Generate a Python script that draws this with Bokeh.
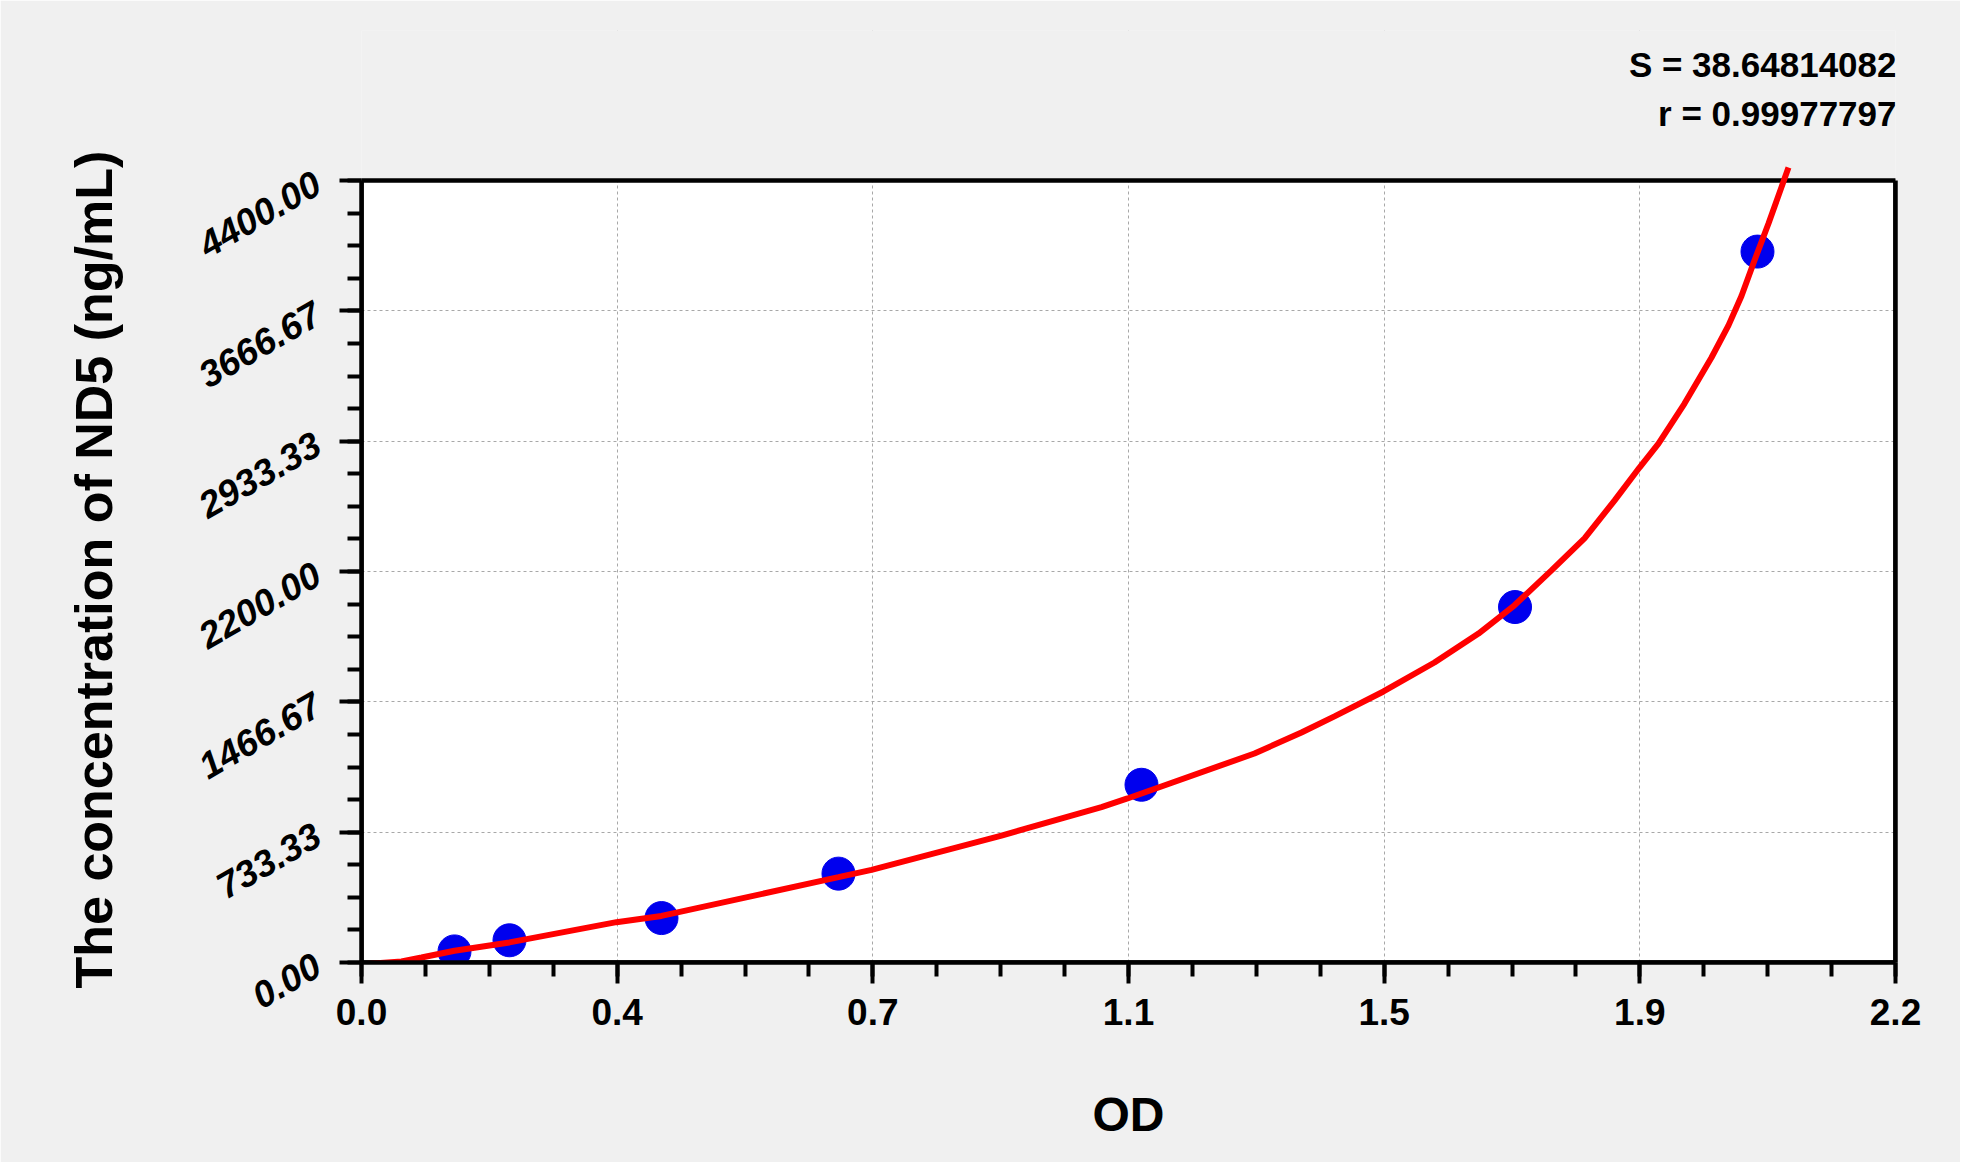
import math
from bokeh.plotting import figure
from bokeh.models import (Range1d, FixedTicker, CustomJSTickFormatter, BoxAnnotation,
                          Label, LinearAxis, Title)
from bokeh.embed import file_html
from bokeh.resources import INLINE

# ---- data ----
std_od = [0.1353, 0.2153, 0.4365, 0.6940, 1.1349, 1.6784, 2.0312]
std_conc = [62.5, 125, 250, 500, 1000, 2000, 4000]

fit_od = [0.0073, 0.0582, 0.0873, 0.1353, 0.2153, 0.3710, 0.4365, 0.6940, 0.7421,
          0.9312, 1.0767, 1.1145, 1.2993, 1.3677, 1.4157, 1.4870, 1.5612, 1.6253,
          1.6776, 1.7315, 1.7795, 1.8231, 1.8595, 1.8871, 1.9250, 1.9643, 1.9890,
          2.0079, 2.0268, 2.0472, 2.0763]
fit_conc = [-8, 6, 28, 66, 113, 227, 262, 480, 521, 714, 874, 923, 1176, 1294, 1385,
            1525, 1688, 1851, 2010, 2206, 2386, 2599, 2785, 2920, 3145, 3404, 3585,
            3750, 3950, 4158, 4473]

x_tick_labels = ["0.0", "0.4", "0.7", "1.1", "1.5", "1.9", "2.2"]
y_tick_labels = ["0.00", "733.33", "1466.67", "2200.00", "2933.33", "3666.67", "4400.00"]
stat_s = "S = 38.64814082"
stat_r = "r = 0.99977797"
x_title = "OD"
y_title = "The concentration of  ND5 (ng/mL)"

X_MAX = 2.232
Y_MAX = 4400.0
PX_PLOT = 782            # pixel height of the 0..4400 box
FRAME_H = 932            # frame extends above the box to hold the statistics text
Y_TOP = Y_MAX * FRAME_H / PX_PLOT

x_ticks = [X_MAX * i / 6 for i in range(7)]
x_minor = [X_MAX * i / 24 for i in range(25)]
y_ticks = [Y_MAX * i / 6 for i in range(7)]
y_minor = [Y_MAX * i / 24 for i in range(25)]

FONT = "Liberation Sans"
BG = "#f0f0f0"

p = figure(frame_width=1534, frame_height=FRAME_H,
           x_range=Range1d(0, X_MAX), y_range=Range1d(0, Y_TOP),
           output_backend="svg", toolbar_location=None,
           min_border_left=360, min_border_right=65,
           min_border_top=30, min_border_bottom=200,
           background_fill_color=BG, border_fill_color=BG,
           outline_line_color=None)

# white plotting area
p.add_layout(BoxAnnotation(left=0, right=X_MAX, bottom=0, top=Y_MAX,
                           fill_color="white", fill_alpha=1.0, line_alpha=0,
                           level="image"))

# grids
for g, t in ((p.xgrid, x_ticks), (p.ygrid, y_ticks)):
    g.ticker = FixedTicker(ticks=t)
    g.grid_line_color = "#a8a8a8"
    g.grid_line_dash = "3 3"
    g.grid_line_width = 1

# hide grid above the 4400 line
p.add_layout(BoxAnnotation(bottom=Y_MAX, fill_color=BG, fill_alpha=1.0,
                           line_alpha=0, level="underlay"))
# frame border
p.add_layout(BoxAnnotation(left=0, right=X_MAX, bottom=0, top=Y_MAX,
                           fill_color="white", fill_alpha=0.0,
                           line_color="black", line_alpha=1.0, line_width=4.5,
                           level="underlay"))

# axes
xa = p.xaxis[0]
xa.ticker = FixedTicker(ticks=x_ticks, minor_ticks=x_minor)
xa.formatter = CustomJSTickFormatter(args=dict(labels=x_tick_labels),
                                     code="return labels[index]")
ya = p.yaxis[0]
ya.ticker = FixedTicker(ticks=y_ticks, minor_ticks=y_minor)
ya.formatter = CustomJSTickFormatter(args=dict(labels=y_tick_labels),
                                     code="return labels[index]")
ya.bounds = (0, Y_MAX)

for ax in (xa, ya):
    ax.axis_line_width = 4.5
    ax.axis_line_color = "black"
    ax.major_tick_in = 0
    ax.minor_tick_in = 0
    ax.major_tick_line_width = 4
    ax.minor_tick_line_width = 4
    ax.major_tick_line_color = "black"
    ax.minor_tick_line_color = "black"
    ax.major_label_text_color = "black"
    ax.axis_label_text_color = "black"
    ax.axis_label_text_font = FONT
    ax.axis_label_text_font_style = "bold"
    ax.major_label_text_font = FONT

xa.major_tick_out = 21
xa.minor_tick_out = 14
xa.major_label_text_font_size = "37px"
xa.major_label_text_font_style = "bold"
xa.major_label_standoff = 15
xa.axis_label = x_title
xa.axis_label_text_font_size = "48px"
xa.axis_label_standoff = 60

ya.major_tick_out = 22
ya.minor_tick_out = 14
ya.major_label_text_font_size = "37px"
ya.major_label_text_font_style = "bold italic"
ya.major_label_orientation = math.radians(30)
ya.major_label_standoff = 22

# y-axis title, starting just below the bottom of the plot box
p.add_layout(Title(text=y_title, align="left", offset=-26,
                   standoff=125, text_font=FONT, text_font_size="52px",
                   text_font_style="bold", text_color="black"), "left")

# right border axis (no ticks)
ra = LinearAxis(ticker=FixedTicker(ticks=[]), bounds=(0, Y_MAX),
                axis_line_width=4.5, axis_line_color="black",
                major_tick_line_color=None, minor_tick_line_color=None,
                major_label_text_font_size="0px")
p.add_layout(ra, "right")

# data
p.scatter(std_od, std_conc, size=33, fill_color="#0000ee", line_color="#0000ee")
p.line(fit_od, fit_conc, line_color="#ff0000", line_width=6)

# statistics text (top right, screen offsets from the frame's lower-left corner)
for txt, dy in ((stat_s, 898), (stat_r, 849)):
    p.add_layout(Label(x=1535, y=dy, x_units="screen", y_units="screen", text=txt,
                       text_align="right", text_baseline="middle",
                       text_font=FONT, text_font_size="35px",
                       text_font_style="bold", text_color="black"))

open("out.html", "w").write(file_html(p, INLINE))
